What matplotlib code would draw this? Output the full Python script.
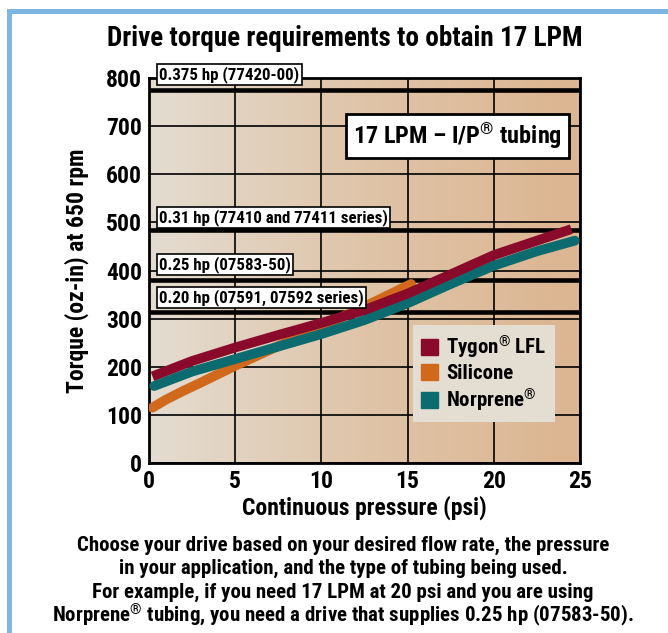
import numpy as np
import matplotlib.pyplot as plt
from matplotlib.patches import Rectangle, Patch
from matplotlib.colors import LinearSegmentedColormap

plt.rcParams['font.family'] = ['Roboto Condensed', 'DejaVu Sans']
plt.rcParams['font.weight'] = 'bold'
plt.rcParams['axes.labelweight'] = 'bold'
plt.rcParams['mathtext.fontset'] = 'custom'
for k in ['rm', 'it', 'bf', 'sf']:
    plt.rcParams['mathtext.' + k] = 'Roboto Condensed:bold'

# data
tygon_x = [0.2, 2.5, 5, 7.5, 10, 12.5, 15, 17.5, 20, 22.5, 24.5]
tygon_y = [180, 212, 240, 266, 291, 318, 352, 392, 432, 462, 486]
silicone_x = [0.2, 1, 2, 3, 5, 7.5, 10, 12.5, 15.2]
silicone_y = [115, 132, 150, 167, 202, 243, 284, 325, 372]
norprene_x = [0.3, 2.5, 5, 7.5, 10, 12.5, 15, 17.5, 20, 22.5, 24.7]
norprene_y = [160, 190, 216, 242, 268, 297, 332, 372, 410, 440, 462]

hp_levels = [775, 484, 380, 314]
hp_labels = ['0.375 hp (77420-00)', '0.31 hp (77410 and 77411 series)',
             '0.25 hp (07583-50)', '0.20 hp (07591, 07592 series)']
hp_label_y = [807, 511, 412, 343]

colors = {'Tygon': '#8a0a2c', 'Silicone': '#d0691c', 'Norprene': '#0b6b6e'}

fig = plt.figure(figsize=(6.68, 6.33), dpi=100)

# blue frame
fig.add_artist(Rectangle((7/668, 0), 5/668, 1 - 9/633, transform=fig.transFigure,
                         color='#7db6e3', lw=0))
fig.add_artist(Rectangle((7/668, 1 - 14/633), 1, 5/633, transform=fig.transFigure,
                         color='#7db6e3', lw=0))

ax = fig.add_axes([149/668, 170/633, 431/668, 385/633])
ax.set_xlim(0, 25)
ax.set_ylim(0, 800)

# background gradient
grad = np.linspace(0, 1, 256).reshape(1, -1)
cmap = LinearSegmentedColormap.from_list('bg', ['#e4dcd1', '#dfc4a8', '#dcb591'])
ax.imshow(grad, extent=[0, 25, 0, 800], aspect='auto', cmap=cmap, zorder=0)

ax.set_xticks([0, 5, 10, 15, 20, 25])
ax.set_yticks(range(0, 801, 100))
ax.grid(True, color='black', lw=1.2, zorder=1)
for s in ax.spines.values():
    s.set_linewidth(2)
ax.tick_params(length=0, labelsize=17, pad=5)

for lvl in hp_levels:
    ax.axhline(lvl, color='black', lw=3.3, zorder=2)
for lab, y in zip(hp_labels, hp_label_y):
    ax.text(0.6, y, lab, fontsize=12.2, va='center', ha='left', zorder=5, clip_on=False,
            bbox=dict(boxstyle='square,pad=0.12', fc='white', ec='black', lw=1.2))

ax.plot(silicone_x, silicone_y, color=colors['Silicone'], lw=7, solid_capstyle='round', zorder=3)
ax.plot(tygon_x, tygon_y, color=colors['Tygon'], lw=7, solid_capstyle='butt', zorder=4)
ax.plot(norprene_x, norprene_y, color=colors['Norprene'], lw=7, solid_capstyle='round', zorder=3)

ax.text(17.9, 679, '17 LPM – I/P$^{®}$ tubing', fontsize=17.5, ha='center', va='center', zorder=5,
        bbox=dict(boxstyle='square,pad=0.28', fc='white', ec='black', lw=2))

handles = [Patch(color=colors['Tygon']), Patch(color=colors['Silicone']), Patch(color=colors['Norprene'])]
leg = ax.legend(handles, ['Tygon$^{®}$ LFL', 'Silicone', 'Norprene$^{®}$'],
                loc='lower left', bbox_to_anchor=(0.6125, 0.1065), borderaxespad=0, fontsize=15,
                frameon=True, fancybox=False, framealpha=1, handlelength=0.8, handleheight=0.8,
                handletextpad=0.4, labelspacing=0.15, borderpad=0.4)
leg.get_frame().set_facecolor('#e4ddd2')
leg.get_frame().set_linewidth(0)
leg.set_zorder(6)

ax.set_xlabel('Continuous pressure (psi)', fontsize=17, labelpad=2)
ax.set_ylabel('Torque (oz-in) at 650 rpm', fontsize=17, labelpad=12)

fig.text(345/668, 1 - 38/633, 'Drive torque requirements to obtain 17 LPM',
         fontsize=19.5, ha='center', va='center')

notes = ['Choose your drive based on your desired flow rate, the pressure',
         'in your application, and the type of tubing being used.',
         'For example, if you need 17 LPM at 20 psi and you are using',
         'Norprene$^{®}$ tubing, you need a drive that supplies 0.25 hp (07583-50).']
for i, line in enumerate(notes):
    fig.text(343/668, 1 - (545 + 23.5 * i)/633, line, fontsize=15, ha='center', va='center')

fig.savefig('out.png', dpi=100)
